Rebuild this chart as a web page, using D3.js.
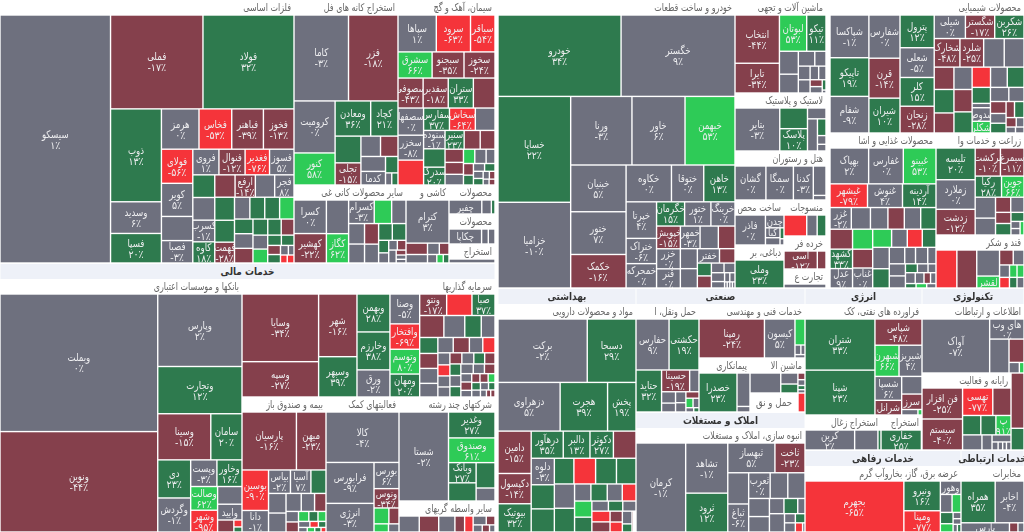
<!DOCTYPE html>
<html><head><meta charset="utf-8">
<script src="https://d3js.org/d3.v7.min.js"></script>
<style>html,body{margin:0;background:#fff;overflow:hidden}svg{display:block;font-family:"DejaVu Sans","Noto Sans",sans-serif;filter:blur(.3px)}</style>
</head><body><div id="c"></div>
<script>
// each row: [symbol, weight read from tile area, % change]
const metals=[["سیسکو",25340,1],["فملی",8020,-17],["فولاد",7900,32],["ذوب",4370,13],["وسدید",1490,6],["فسپا",1390,20],["هرمز",1400,0],["فخاس",1220,-53],["فباهنر",1180,-39],["فخوز",1140,-13],["فولای",990,-56],["کویر",960,5],["",700,0],["فصبا",650,-3],["فروی",620,1],["فنوال",620,-12],["فغدیر",580,-76],["فسوز",580,5],["",460,20],["",460,0],["کسرب",440,-1],["کاوه",430,18],["",420,-20],["ارفع",420,-14],["",400,0],["فجر",400,8],["",420,20],["",400,20],["فهمت",380,-28],["",310,0],["",300,20],["",300,20],["",290,60],["",250,20],["",250,0],["",250,-20],["",220,20],["",200,20],["",190,-20],["",190,0],["",190,60],["",130,20],["",120,20],["",108,-20],["",100,20],["",70,0],["",50,0],["",50,-70],["",50,-70]];
const kane=[["کاما",4340,-3],["فزر",3940,-18],["کرومیت",1980,0],["کنور",1220,58],["ومعادن",1160,36],["کچاد",890,21],["",640,20],["تجلی",530,-15],["",370,0],["",330,-20],["",340,0],["کدما",310,0],["",190,20],["",70,0],["",70,20]];
const siman=[["سپاها",1220,1],["سرود",1090,-63],["سباقر",780,-54],["سشرق",770,66],["سبجنو",720,-35],["سخوز",700,-24],["سصوفی",650,-43],["سفدبر",650,-18],["ستران",650,33],["",560,-20],["سصفها",600,0],["سخزر",550,-8],["",550,-70],["سفارس",500,37],["سخاش",500,-64],["",380,0],["سنوده",340,-1],["",340,20],["سدرک",330,20],["سنیر",310,23],["",260,-20],["",240,-20],["",210,-20],["",190,-20],["",170,0],["",140,60],["",140,0],["",110,0],["",100,-20],["",85,20],["",75,0],["",70,20],["",60,0],["",55,20],["",42,0],["",38,-20],["",30,0],["",30,-20]];
const sayer=[["کسرا",900,0],["کهشیر",790,-22],["",620,0],["کگاز",540,62],["کسرام",500,-3],["",340,60],["",280,0],["",270,0],["",250,0],["",240,-20],["",220,0],["",190,20],["",190,20],["",105,20],["",85,0],["",70,0],["",70,-20],["",80,0],["",40,-20],["",35,0],["",30,0]];
const kashi=[["کترام",1520,3],["",200,-20],["",110,0],["",90,-20],["",150,0],["",65,0],["",45,60],["",40,20]];
const mahsul1=[["چفیر",360,0],["",105,0],["",40,20]];
const mahsul2=[["چکاپا",340,0],["",70,0],["",70,0]];
const estekhraj1=[["",100,0]];
const banks=[["وبملت",21100,0],["ونوین",15400,-44],["وپارس",5940,2],["وتجارت",3870,12],["وسینا",2380,-15],["سامان",1400,20],["دی",1220,23],["وگردش",1090,-1],["وپست",680,-3],["وخاور",650,16],["وصالت",620,62],["وشهر",570,-95],["",420,0],["وایید",375,0],["",190,-20],["",55,-70],["",40,20]];
const sarmaye=[["وسایا",4290,-34],["وسپه",2240,-27],["شهر",1990,-16],["وسپهر",1280,39],["وبهمن",1035,28],["وخارزم",1035,38],["ورق",740,-2],["وصنا",735,-5],["وافتخار",625,-69],["وتوسم",610,80],["ومهان",565,20],["ونتو",480,-17],["",450,-70],["صبا",410,37],["",440,-20],["",380,0],["",300,20],["",250,0],["",240,20],["",225,-20],["",225,0],["",205,0],["",195,0],["",205,-20],["",170,0],["",155,-70],["",120,0],["",110,-70],["",110,0],["",100,0],["",110,-20],["",110,0],["",100,20],["",95,-20],["",105,20],["",100,0],["",95,20],["",100,0],["",90,0],["",85,-20],["",75,0],["",75,-20],["",60,0],["",60,-20],["",60,-20],["",50,60],["",55,20],["",50,0],["",50,0],["",40,20],["",35,0],["",25,-20],["",25,-20]];
const bime=[["پارسیان",2760,-16],["میهن",1500,-23],["بوسین",940,-90],["دانا",500,-1],["بیاس",450,-2],["آسیا",420,7],["",310,20],["",300,0],["",290,0],["",240,0],["",210,0],["",180,-20],["",115,0],["",110,-20],["",90,60],["",80,20],["",70,60],["",60,0],["",45,-70],["",40,20],["",35,0],["",30,60],["",25,20],["",20,-70]];
const komak=[["کالا",3430,-4],["فرابورس",1830,-9],["انرژی",1280,-3],["بورس",610,6],["ونوس",450,-34],["",220,60],["",150,-20],["",110,60],["",80,0]];
const chand=[["شستا",3950,-2],["وغدیر",1080,27],["وصندوق",1030,61],["وبانک",500,27],["",450,20],["",430,20],["",220,0]];
const vaseteh=[["",250,0],["",240,-20],["",200,0],["",120,-20],["",105,-70],["",90,0],["",60,-20],["",50,0],["",40,-20],["",30,0]];
const khodro=[["خودرو",9440,34],["خگستر",8740,9],["خساپا",7250,22],["خزامیا",5870,-10],["ورنا",3960,-3],["خاور",3430,6],["خبهمن",3230,53],["خبنیان",2440,5],["ختور",2230,7],["خکمک",1750,-16],["خکاوه",1575,0],["ختوقا",1120,0],["خاهن",1085,13],["خپرتا",1050,4],["ختراک",725,-6],["خمحرکه",700,0],["خگرمان",640,15],["ختور",600,1],["خرینگ",550,0],["خپویش",510,-15],["خزر",450,0],["قنر",430,0],["خمهر",420,-3],["",390,0],["",355,-20],["",320,0],["",310,0],["خفتر",300,0],["",210,-20],["",170,20],["",160,-20],["",115,0],["",100,0],["",110,0],["",80,0],["",45,0],["",45,0],["",15,0],["",15,0],["",15,0],["",15,0]];
const mashin=[["انتخاب",1930,-44],["تایرا",1190,-34],["لبوتان",890,53],["تیکو",630,11],["",390,0],["",320,0],["",220,0],["",150,0],["",145,0],["",140,0],["",105,0],["",90,0],["",75,-20],["",70,0],["",35,20],["",10,0]];
const lastik=[["بتایر",1680,-3],["",500,20],["پلاسک",540,10],["",175,0],["",280,0],["",125,20],["",65,0],["",50,0]];
const hotel=[["گشان",900,0],["سمگا",800,0],["کدنا",580,-3],["",320,0],["",50,0]];
const sakht=[["فاذر",730,0],["چدن",190,0],["کیا",115,0],["",85,0],["",35,20],["",20,0]];
const dabbaghi=[["وملی",1100,23]];
const mansujat=[["",360,-70],["",165,0],["",140,20]];
const khorde=[["آسی",440,-12],["",115,-20]];
const tejarat=[["",100,0]];
const shimi=[["شپاکسا",1470,-1],["تاپیکو",1330,19],["شفام",1260,-9],["شفارس",1190,0],["قرن",1100,-14],["شیران",960,10],["پترول",990,12],["شعلی",900,-5],["کلر",870,15],["زنجان",810,-28],["شیلی",650,0],["شگستر",610,-17],["شکربن",610,26],["شخارک",650,-48],["شلرد",600,-25],["",520,0],["",500,0],["",390,-20],["",410,20],["",350,-20],["",360,0],["",360,-20],["",340,20],["",330,-70],["",300,0],["",300,20],["",260,20],["",70,0],["شدوص",220,8],["شکلر",190,60],["",230,0],["",190,0],["",165,-20],["",135,0],["",135,20],["",120,-20],["",135,20],["",85,-20],["",65,0],["",50,0],["",45,0]];
const ghaza=[["بهپاک",1170,2],["غفارس",1050,0],["غبینو",990,53],["غیشهر",750,-79],["غنوش",700,4],["آردینه",670,14],["غزر",390,-2],["",350,0],["",320,0],["",300,-20],["",300,0],["",280,20],["",380,-20],["کشهد",370,33],["عدل",370,9],["",340,60],["",320,-20],["غناب",340,0],["",290,60],["",240,0],["",230,-70],["",210,20],["",300,0],["",270,20],["",215,0],["",150,0],["",170,0],["",115,0],["",165,0],["",165,0],["",90,20],["",80,0],["",60,0],["",90,0],["",80,0],["",60,-20],["",50,0],["",40,20],["",40,60],["",35,0]];
const zeraat=[["تلیسه",1050,20],["زملارد",980,0],["زدشت",850,-12],["برکشت",600,-10.4],["سیمرغ",560,-11],["رکیا",470,28],["جوین",400,66],["",360,0],["",290,0],["",195,-20],["",170,0],["",145,-20],["",150,20],["",100,20],["",55,0],["",50,0],["",45,60]];
const ghand=[["",640,-70],["",610,-20],["",480,0],["لقشر",220,60],["",165,-20],["",130,0],["",100,0],["",75,60],["",70,60],["",85,-70],["",65,20],["",60,0]];
const daru=[["برکت",5070,-2],["دسبحا",2770,29],["دزهراوی",2710,5],["هجرت",2070,39],["پخش",1240,19],["دامین",1260,-15],["دکپسول",900,-14],["بیوتیک",840,32],["درهآور",780,35],["دالبر",650,13],["دکوثر",570,27],["",550,-20],["دلوه",550,-3],["",500,20],["",480,20],["",450,20],["",500,-70],["",480,20],["",450,20],["",440,0],["",430,20],["",250,0],["",250,20],["",230,0],["",210,-70],["",250,60],["",230,20],["",150,0],["",130,20],["",120,0],["",175,-70],["",165,-20],["",120,-20],["",110,-70],["",110,0],["",70,20],["",30,-20],["",25,0],["",20,0]];
const hamlonaghl=[["حفارس",1490,9],["حکشتی",1350,19],["حتاید",950,32],["حسینا",540,-19],["",180,0],["",140,0],["",110,0],["",100,0],["",85,0],["",75,-20],["",60,60],["",50,0],["",30,0],["",20,20]];
const fanni=[["رمپنا",2250,-24],["کیسون",1050,5],["",230,60],["",50,0],["",35,0],["",30,0]];
const peyman=[["خصدرا",1330,23],["",390,0],["",65,0]];
const mashinAla=[["",520,0],["",160,0],["",130,20],["",40,-20],["",35,0],["",25,20],["",20,0]];
const hamlVaNagh=[["حمل و نق",912,null],["",133,-70]];
const anbuh=[["کرمان",4000,-1],["تشاهد",1910,-1],["ثرود",1480,12],["ثبهساز",1270,5],["ثاخت",810,-23],["",590,0],["ثباغ",530,-6],["ثعرب",500,0],["",410,0],["",400,0],["",340,0],["",290,0],["",200,0],["",190,20],["",100,0],["",250,0],["",90,0],["",80,20],["",90,0],["",60,-70],["",20,0]];
const faravarde=[["شتران",3190,33],["شپنا",2800,23],["شپاس",1100,-48],["شبهرن",670,66],["شیریز",640,4],["شسپا",570,6],["شرانل",350,-40],["",320,0],["سرز",280,-22],["",80,0],["",20,60]];
const zoghal=[["کربن",810,2],["",380,0],["",50,20]];
const estekhraj2=[["خفاری",660,25],["",10,0]];
const ettela=[["آواک",3340,-7],["های وب",630,0],["",600,0],["",320,-20],["",100,0],["",45,60]];
const rayane=[["فن افزار",1030,-25],["سیستم",1030,-40],["تهسی",680,-77],["",410,-20],["",290,20],["",240,20],["پ",240,91],["",240,0],["",125,0],["",110,0],["",40,0],["",30,0],["",25,0],["",30,0]];
const tech3=[["",560,-20],["",220,20]];
const barq=[["بجهرم",4550,-65],["ونیرو",980,16],["ومپنا",700,-77],["وهور",250,0],["",190,0],["",145,60],["",130,20],["",95,60],["",45,0],["",40,0],["",30,0],["",25,20]];
const mokhaberat=[["همراه",1280,35],["اخابر",1080,-4],["پارس",400,0],["",70,-20],["",50,0]];

// strips: how many tiles go into each successive strip; positive = column at the left, negative = row on top
const ind=(title,rows,strips,weight)=>{const t=d3.sum(rows,r=>r[1]);return{title,strips,kids:rows.map(r=>({name:r[0],chg:r[2],v:weight*r[1]/t}))}};
const H=(...kids)=>({split:"h",kids}), V=(...kids)=>({split:"v",kids});
const gap=v=>({gap:true,v}), head=(header,v)=>({header,v});

const tree=H(
 V(H(ind("فلزات اساسی",metals,[1,-2,3,-4,4,-4,4,-4,3,-4,3,-3,2,-2,2,-2,-2],77322),
     V(H(ind("استخراج کانه های فل",kane,[-2,2,-2,2,-2,2,-1,-2],19240),ind("سیمان، آهک و گچ",siman,[-3,-3,-4,3,-3,3,-3,3,-3,2,-2,2,-2,-2],17945)),
       H(ind("سایر محصولات کانی غی",sayer,[2,2,-3,2,2,-2,2,-2,1,-1,-1,-1],8736),ind("کاشی و",kashi,[-1,-3,-4],3354),
         V(ind("محصولات",mahsul1,[1,1,1],1334),ind("محصولات",mahsul2,[1,1,1],1380),ind("استخراج",estekhraj1,[1],874))))),
   head("خدمات مالی",7920),
   H(ind("بانکها و موسسات اعتباری",banks,[2,-1,-1,-2,2,-2,2,-1,-1,1,-1,-1],61226),
     V(ind("سرمایه گذاریها",sarmaye,[2,2,3,4,-3,-4,4,-4,4,-4,3,-3,3,-3,2,-2,-3],29854),
       H(ind("بیمه و صندوق باز",bime,[-2,2,-3,2,-3,2,-3,-3,-4],11340),ind("فعالیتهای کمک",komak,[-1,2,-1,-1,-2,-2],9855),
         V(ind("شرکتهای چند رشته",chand,[1,-1,-1,2,-1,-1],9984),ind("سایر واسطه گریهای",vaseteh,[1,1,1,1,1,-2,-3],2976)))))),
 gap(1596),
 V(H(ind("خودرو و ساخت قطعات",khodro,[-2,2,-3,3,-3,3,-3,3,-3,2,-2,2,-2,2,-2,-4],68256),
     V(ind("ماشین آلات و تجهی",mashin,[2,-2,2,-2,2,-2,2,2],8463),ind("لاستیک و پلاستیک",lastik,[1,2,-1,1,3],5278),ind("هتل و رستوران",hotel,[1,1,1,2],4459),
       H(V(ind("ساخت محص",sakht,[1,-1,2,2],2205),ind("دباغی، بر",dabbaghi,[1],2107)),
         V(ind("منسوجات",mansujat,[1,1,1],1512),ind("خرده فر",khorde,[1,1],1386),ind("تجارت ع",tejarat,[1],798)))),
     gap(1152),
     V(ind("محصولات شیمیایی",shimi,[3,3,4,-3,-4,3,3,-3,4,-2,3,-2,-2,-2],25802),
       H(ind("محصولات غذایی و اشا",ghaza,[-3,-3,-6,3,3,-4,2,-4,2,-3,-4,-3],16430),
         V(ind("زراعت و خدمات وا",zeraat,[3,-2,-2,2,-2,2,-1,2,1],8976),ind("قند و شکر",ghand,[1,1,2,-2,-3,-3],4664))))),
   H(V(head("بهداشتی",2208),ind("مواد و محصولات دارویی",daru,[-2,-3,3,-4,3,-4,2,-4,2,-3,2,2,2,-3],31464)),
     V(head("صنعتی",2704),
       H(ind("حمل ونقل، ا",hamlonaghl,[-2,1,-2,2,2,-1,-2,-2],6804),
         V(ind("خدمات فنی و مهندسی",fanni,[1,1,-1,-2,-1],5724),
           H(ind("پیمانکاری",peyman,[1,2],2754),
             V(ind("ماشین الا",mashinAla,[1,2,4],1925),ind(null,hamlVaNagh,[1,1],1045))))),
       head("املاک و مستغلات",2704),
       ind("انبوه سازی، املاک و مستغلات",anbuh,[1,2,-2,2,-3,2,-3,1,-2,-3],17576)),
     V(H(V(head("انرژی",1872),ind("فراورده های نفتی، کک",faravarde,[2,-1,-2,2,-1,-1,-2],12987),
           H(ind("استخراج زغال",zoghal,[1,1,1],2660),ind("استخراج",estekhraj2,[1,1],1435))),
         V(head("تکنولوژی",1632),ind("اطلاعات و ارتباطات",ettela,[1,-1,1,-1,-2],7038),
           H(ind("رایانه و فعالیت",rayane,[2,-2,-3,1,1,-1,-4],6853),ind(null,tech3,[-1,-1],1001)))),
       H(V(head("خدمات رفاهی",2496),ind("عرضه برق، گاز، بخاروآب گرم",barq,[1,2,-1,-2,2,-1,-1,-2],10296)),
         V(head("خدمات ارتباطی",1008),ind("مخابرات",mokhaberat,[-2,-3],4158)))))));

function stripTile(parent,x0,y0,x1,y1){
  let i=0,value=parent.value;
  for(const s of parent.data.strips){
    const children=parent.children.slice(i,i+Math.abs(s)), sum=d3.sum(children,c=>c.value), strip={children,value:sum};
    if(s<0){const y=y0+(y1-y0)*sum/value;d3.treemapDice(strip,x0,y0,x1,y);y0=y}
    else{const x=x0+(x1-x0)*sum/value;d3.treemapSlice(strip,x0,y0,x,y1);x0=x}
    value-=sum;i+=Math.abs(s);
  }
}
const tile=(n,a,b,c,d)=>(n.data.split==="h"?d3.treemapDice:n.data.split==="v"?d3.treemapSlice:stripTile)(n,a,b,c,d);
const root=d3.hierarchy(tree,d=>d.kids).sum(d=>d.v||0);
d3.treemap().size([1024,532]).tile(tile).paddingTop(n=>n.data.title?15:0)(root);

const color=d3.scaleThreshold().domain([-50,-10,10,50]).range(["#f5343a","#85404c","#6e707e","#2e7a4e","#2ecb57"]);
const fa=s=>String(s).replace(/\d/g,d=>"۰۱۲۳۴۵۶۷۸۹"[d]);
const svg=d3.select("#c").append("svg").attr("width",1024).attr("height",532);
const FONT=10.5;
// the installed Arabic face runs wider than the reference's: narrow it about its anchor
const condense=(sel,k)=>sel.each(function(){const x=+this.getAttribute("x"),y=+this.getAttribute("y");this.setAttribute("x",0);this.setAttribute("y",0);this.setAttribute("transform",`translate(${x},${y}) scale(${k},1)`)});

const nodes=root.descendants();
const hs=svg.selectAll("g.h").data(nodes.filter(n=>n.data.header)).join("g");
hs.append("rect").attr("x",d=>d.x0+.5).attr("y",d=>d.y0+1).attr("width",d=>d.x1-d.x0-1).attr("height",d=>d.y1-d.y0-1).attr("fill","#eef1f8");
condense(hs.append("text").attr("x",d=>(d.x0+d.x1)/2).attr("y",d=>d.y0+12).attr("text-anchor","middle").attr("font-size",10.5).attr("font-weight","bold").attr("fill","#333").attr("direction","rtl").text(d=>d.data.header),.85);
condense(svg.selectAll("text.t").data(nodes.filter(n=>n.data.title)).join("text").attr("class","t")
 .attr("x",d=>d.x1-3).attr("y",d=>d.y0+10.5).attr("direction","rtl").attr("text-anchor","start").attr("font-size",10.5).attr("fill","#666").text(d=>d.data.title),.76);
const leaves=root.leaves().filter(n=>n.data.name!==undefined);
svg.selectAll("rect.c").data(leaves.filter(d=>d.data.chg!==null)).join("rect").attr("class","c")
 .attr("x",d=>d.x0+.7).attr("y",d=>d.y0+.7).attr("width",d=>Math.max(0,d.x1-d.x0-1.4)).attr("height",d=>Math.max(0,d.y1-d.y0-1.4)).attr("fill",d=>color(d.data.chg));
const lab=svg.selectAll("svg.l").data(leaves.filter(d=>d.data.name)).join("svg").attr("class","l")
 .attr("x",d=>d.x0).attr("y",d=>d.y0).attr("width",d=>d.x1-d.x0).attr("height",d=>d.y1-d.y0);
const two=d=>d.y1-d.y0>=16&&d.data.chg!==null;
condense(lab.append("text").attr("x",d=>(d.x1-d.x0)/2).attr("y",d=>{const h=d.y1-d.y0;return two(d)?h/2-1.5:h/2+3.5})
 .attr("text-anchor","middle").attr("direction","rtl").attr("font-size",FONT).attr("fill",d=>d.data.chg===null?"#666":"#eeeef0").text(d=>d.data.name),.82);
condense(lab.filter(two).append("text").attr("x",d=>(d.x1-d.x0)/2).attr("y",d=>(d.y1-d.y0)/2+9.5)
 .attr("text-anchor","middle").attr("direction","ltr").attr("font-size",FONT).attr("fill","#eeeef0").text(d=>fa(Math.round(d.data.chg))+"٪"),.9);
</script></body></html>
